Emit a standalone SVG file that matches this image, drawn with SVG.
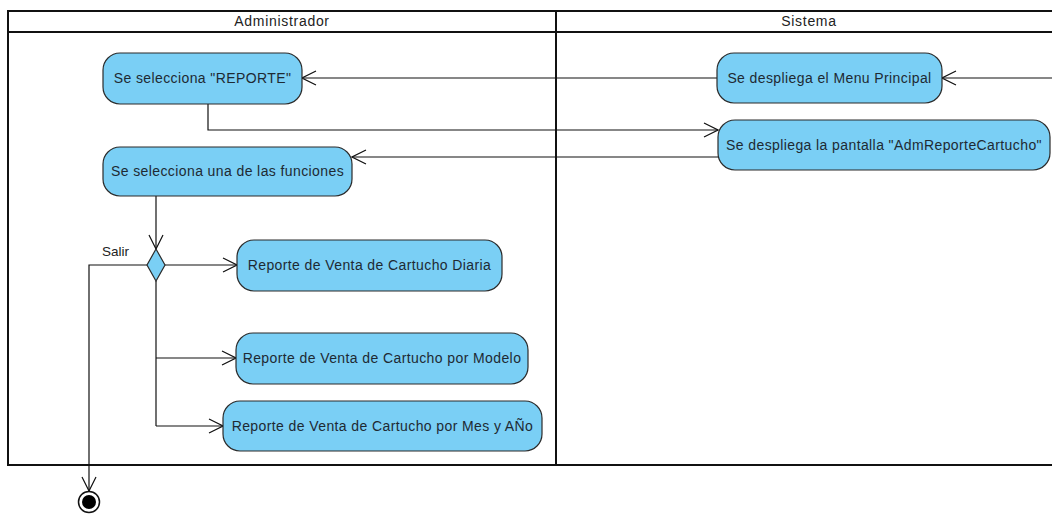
<svg xmlns="http://www.w3.org/2000/svg" width="1052" height="516" viewBox="0 0 1052 516">
<style>
.lane{fill:none;stroke:#111;stroke-width:2}
.hdr{font-family:"Liberation Sans",Arial,sans-serif;font-size:14px;letter-spacing:0.7px;fill:#222;text-anchor:middle}
.act{fill:#7acff5;stroke:#2b2b2b;stroke-width:1.2}
.lbl{font-family:"Liberation Sans",Arial,sans-serif;font-size:14px;letter-spacing:0.4px;fill:#1e2a33;text-anchor:middle}
.edge{fill:none;stroke:#111;stroke-width:1.2}
.guard{font-family:"Liberation Sans",Arial,sans-serif;font-size:13.5px;fill:#222}
</style>
<defs>
<marker id="open" viewBox="0 0 16 16" refX="15" refY="8" markerWidth="16" markerHeight="16" markerUnits="userSpaceOnUse" orient="auto">
<path d="M1,1 L15,8 L1,15" fill="none" stroke="#111" stroke-width="1.2"/>
</marker>
</defs>
<rect width="1052" height="516" fill="#fff"/>
<g id="pool">
<line class="lane" x1="8" y1="11" x2="1052" y2="11"/>
<line class="lane" x1="8" y1="32" x2="1052" y2="32"/>
<line class="lane" x1="8" y1="465" x2="1052" y2="465"/>
<line class="lane" x1="8" y1="10" x2="8" y2="466"/>
<line class="lane" x1="556" y1="10" x2="556" y2="466"/>
<text class="hdr" x="282" y="26">Administrador</text>
<text class="hdr" x="809" y="26">Sistema</text>
</g>
<g id="connectors">
<path class="edge" d="M1052,78 L942,78" marker-end="url(#open)"/>
<path class="edge" d="M717,78 L302,78" marker-end="url(#open)"/>
<path class="edge" d="M208,104 L208,130 L718,130" marker-end="url(#open)"/>
<path class="edge" d="M718,157 L352,157" marker-end="url(#open)"/>
<path class="edge" d="M156,196 L156,249" marker-end="url(#open)"/>
<path class="edge" d="M165,265 L237,265" marker-end="url(#open)"/>
<path class="edge" d="M156,281 L156,426"/>
<path class="edge" d="M156,358 L236,358" marker-end="url(#open)"/>
<path class="edge" d="M156,426 L223,426" marker-end="url(#open)"/>
<path class="edge" d="M147,265 L89,265 L89,491" marker-end="url(#open)"/>
<text class="guard" x="102" y="256">Salir</text>
</g>
<g id="n_reporte">
<rect class="act" x="103" y="53" width="199" height="51" rx="17"/>
<text class="lbl" x="202.5" y="83">Se selecciona "REPORTE"</text>
</g>
<g id="n_funciones">
<rect class="act" x="103" y="147" width="249" height="49" rx="17"/>
<text class="lbl" x="227.5" y="176">Se selecciona una de las funciones</text>
</g>
<g id="n_menu">
<rect class="act" x="717" y="53" width="225" height="50" rx="17"/>
<text class="lbl" x="829.5" y="83">Se despliega el Menu Principal</text>
</g>
<g id="n_pantalla">
<rect class="act" x="718" y="120" width="332" height="50" rx="17"/>
<text class="lbl" x="884" y="150">Se despliega la pantalla "AdmReporteCartucho"</text>
</g>
<g id="n_decision">
<polygon class="act" points="156,249 165,265 156,281 147,265"/>
</g>
<g id="n_diaria">
<rect class="act" x="237" y="240" width="265" height="51" rx="17"/>
<text class="lbl" x="369.5" y="270">Reporte de Venta de Cartucho Diaria</text>
</g>
<g id="n_modelo">
<rect class="act" x="236" y="333" width="292" height="51" rx="17"/>
<text class="lbl" x="382" y="363">Reporte de Venta de Cartucho por Modelo</text>
</g>
<g id="n_mes">
<rect class="act" x="223" y="401" width="319" height="50" rx="17"/>
<text class="lbl" x="382.5" y="431">Reporte de Venta de Cartucho por Mes y AÑo</text>
</g>
<g id="n_final">
<circle cx="89" cy="502" r="10.5" fill="#fff" stroke="#111" stroke-width="1.5"/>
<circle cx="89" cy="502" r="7" fill="#000"/>
</g>
</svg>
